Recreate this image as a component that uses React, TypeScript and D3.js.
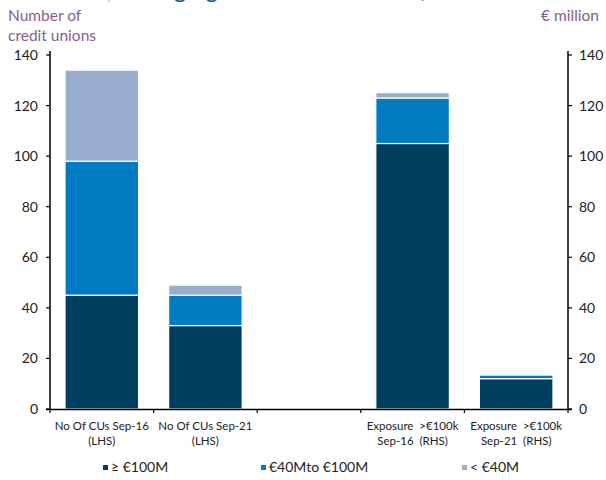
import React from "react";
import * as d3 from "d3";

// Categories along the x axis (two-line labels); the middle slot is an empty spacer
const categories = ["cu16", "cu21", "gap", "exp16", "exp21"];
const labelLine1 = ["No Of CUs Sep-16", "No Of CUs Sep-21", "", "Exposure  >€100k", "Exposure  >€100k"];
const labelLine2 = ["(LHS)", "(LHS)", "", "Sep-16  (RHS)", "Sep-21  (RHS)"];

// Stacked series by asset size band
const large = [45, 33, 0, 105, 12]; // ≥ €100M
const medium = [53, 12, 0, 18, 1.5]; // €40M to €100M
const small = [36, 4, 0, 2.1, 0.3]; // < €40M

const seriesNames = ["≥ €100M", "€40Mto €100M", "< €40M"];
const seriesColors = ["#003E5F", "#007BC1", "#97AECF"];

const yTicks = [0, 20, 40, 60, 80, 100, 120, 140];

const W = 606;
const H = 480;
const left = 50;
const right = 568;
const top = 55;
const bottom = 409;

export default function App() {
  const x = d3
    .scaleBand<string>()
    .domain(categories)
    .range([left, right])
    .paddingInner(0.29)
    .paddingOuter(0.145);
  const y = d3.scaleLinear().domain([0, 140]).range([bottom, top]);

  const rows = categories.map((c, i) => ({ cat: c, large: large[i], medium: medium[i], small: small[i] }));
  const stack = d3.stack<any>().keys(["large", "medium", "small"]);
  const layers = stack(rows);

  const step = x.step();
  const boundaries = d3.range(categories.length + 1).map((i) => left + i * step);

  const font = "Lato, 'Open Sans', sans-serif";
  const legendX = [103, 261, 462];

  return (
    <svg
      width={W}
      height={H}
      style={{ position: "absolute", left: 0, top: 0, background: "#fff" }}
      fontFamily={font}
    >
      {/* Title, sitting above the top edge of the frame */}
      <g fontSize={24}>
        <text x={100} y={-2} fill="#1B5A78" textAnchor="end">Chart 4</text>
        <text x={106} y={-2} fill="#C8D96F">|</text>
        <text x={119} y={-2} fill="#1B5A78">Changing credit union sector, 2016 to 2021</text>
      </g>

      {/* Axis titles */}
      <text x={8} y={21} fontSize={15.5} fill="#8B5C8E">Number of</text>
      <text x={8} y={41} fontSize={15.5} fill="#8B5C8E">credit unions</text>
      <text x={599} y={21} fontSize={15.5} fill="#8B5C8E" textAnchor="end">€ million</text>

      {/* Bars */}
      {layers.map((layer, li) => (
        <g key={li}>
          {layer.map((d, i) => {
            const h = y(d[0]) - y(d[1]);
            if (h <= 0) return null;
            return (
              <rect
                key={i}
                x={x(categories[i])!}
                y={y(d[1])}
                width={x.bandwidth()}
                height={h}
                fill={seriesColors[li]}
                stroke="#fff"
                strokeWidth={1.2}
              />
            );
          })}
        </g>
      ))}

      {/* Left axis */}
      <line x1={left} x2={left} y1={top - 4} y2={bottom} stroke="#000" strokeWidth={1.5} />
      {yTicks.map((t) => (
        <g key={"l" + t}>
          <line x1={left - 4} x2={left} y1={y(t)} y2={y(t)} stroke="#000" strokeWidth={1.2} />
          <text x={38} y={y(t) + 5} fontSize={14} textAnchor="end" fill="#222">{t}</text>
        </g>
      ))}

      {/* Right axis */}
      <line x1={right} x2={right} y1={top - 4} y2={bottom} stroke="#000" strokeWidth={1.5} />
      {yTicks.map((t) => (
        <g key={"r" + t}>
          <line x1={right} x2={right + 4} y1={y(t)} y2={y(t)} stroke="#000" strokeWidth={1.2} />
          <text x={579} y={y(t) + 5} fontSize={14} fill="#222">{t}</text>
        </g>
      ))}

      {/* Bottom axis */}
      <line x1={left - 4} x2={right + 4} y1={bottom + 0.5} y2={bottom + 0.5} stroke="#000" strokeWidth={1.5} />
      {boundaries.map((bx, i) => (
        <line key={i} x1={bx} x2={bx} y1={bottom} y2={bottom + 4} stroke="#000" strokeWidth={1.2} />
      ))}
      {categories.map((c, i) => {
        const cx = x(c)! + x.bandwidth() / 2;
        return (
          <g key={c} fontSize={11.5} fill="#222" textAnchor="middle">
            <text x={cx} y={430} style={{ whiteSpace: "pre" }}>{labelLine1[i]}</text>
            <text x={cx} y={445} style={{ whiteSpace: "pre" }}>{labelLine2[i]}</text>
          </g>
        );
      })}

      {/* Legend */}
      {seriesNames.map((name, i) => (
        <g key={name}>
          <rect x={legendX[i]} y={465} width={5} height={5} fill={seriesColors[i]} />
          <text x={legendX[i] + 8} y={472} fontSize={14} fill="#222">{name}</text>
        </g>
      ))}
    </svg>
  );
}
